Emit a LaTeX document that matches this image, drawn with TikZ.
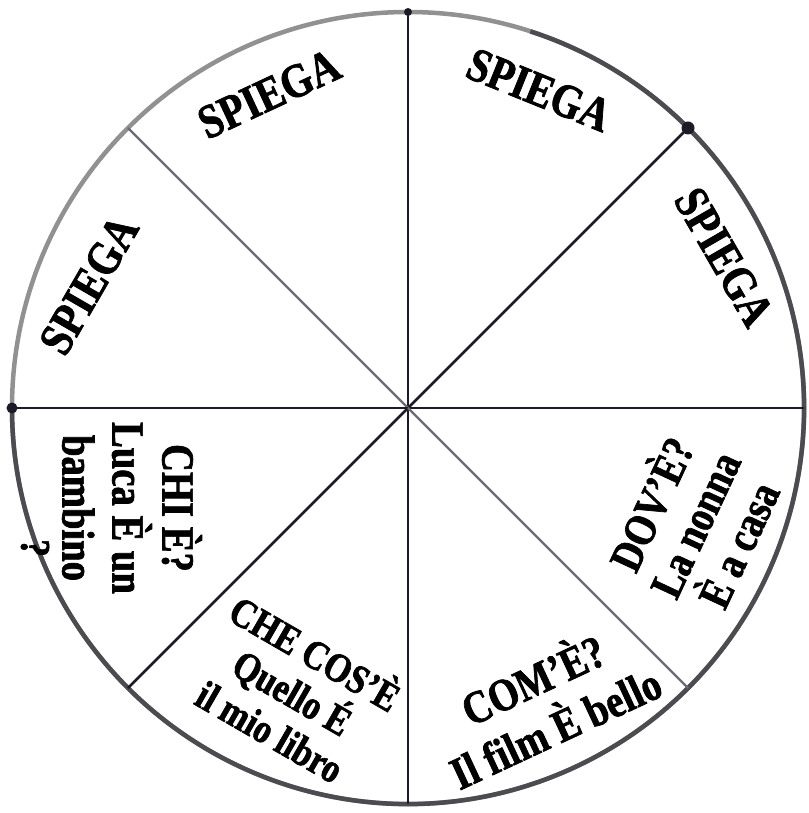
\documentclass[tikz,border=0pt]{standalone}
\usepackage{fontspec}
\setmainfont{Liberation Serif}[FakeStretch=0.84, BoldFeatures={FakeBold=1.5}]
\usepackage{tikz}
\usetikzlibrary{calc}

\definecolor{ink}{RGB}{28,28,40}
\definecolor{rimlight}{RGB}{145,145,145}
\definecolor{rimdark}{RGB}{75,75,80}

\begin{document}
\begin{tikzpicture}[x=1pt, y=1pt,
  rim/.style    ={line width=4.5pt, draw=rimlight},
  rimdk/.style  ={line width=4.5pt, draw=rimdark},
  spoke/.style  ={line width=2.8pt, draw=ink},
  spokelt/.style={line width=2.2pt, draw=ink!65},
  pin/.style    ={circle, fill=ink, inner sep=0pt, minimum size=11pt},
  spiega/.style ={font=\fontsize{48}{50}\selectfont\bfseries, inner sep=0pt},
  qa/.style     ={font=\fontsize{46}{50}\selectfont\bfseries, align=center,
                  inner sep=0pt},
]
\useasboundingbox (-408,-405) rectangle (400,408);

% === Wheel ===
\coordinate (O) at (0,0);
\draw[rim] (O) circle (396);
\draw[rimdk] (72:396) arc (72:-180:396);

\foreach \a in {0,45,...,315}
  \coordinate (p\a) at (\a:396);

% === Spokes ===
\draw[spoke]   (O) -- (p0);
\draw[spoke]   (O) -- (p45);
\draw[spoke]   (O) -- (p90);
\draw[spokelt] (O) -- (p135);
\draw[spoke]   (O) -- (p180);
\draw[spoke]   (O) -- (p225);
\draw[spoke]   (O) -- (p270);
\draw[spokelt] (O) -- (p315);

% === Pins on the rim ===
\node[pin, minimum size=8pt]  (pinN)  at (p90)  {};
\node[pin, minimum size=13pt] (pinNE) at (p45)  {};
\node[pin]                    (pinW)  at (p180) {};

% === Upper half: SPIEGA ===
\node[spiega, rotate=-60] (spiegaA) at (316,151)  {SPIEGA};
\node[spiega, rotate=-22] (spiegaB) at (131,318)  {SPIEGA};
\node[spiega, rotate=25]  (spiegaC) at (-139,314) {SPIEGA};
\node[spiega, rotate=60]  (spiegaD) at (-319,123) {SPIEGA};

% === Lower half: questions ===
\node[qa, rotate=-90] (chi) at (-276,-100)
  {CHI È?\\Luca È un\\bambino};
\node[qa, rotate=-30, font=\fontsize{41}{45}\selectfont\bfseries] (checos)
  at (-114,-282) {CHE COS’È\\Quello É\\il mio libro};
\node[qa, rotate=25, font=\fontsize{46}{53}\selectfont\bfseries] (come)
  at (135,-293) {COM’È?\\Il film È bello};
\node[qa, rotate=65, font=\fontsize{45}{48}\selectfont\bfseries] (dove)
  at (284,-115) {DOV’È?\\La nonna\\È a casa};

\node[qa, rotate=-90, font=\fontsize{42}{48}\selectfont\bfseries] (qmark)
  at (-373,-140) {?};

\end{tikzpicture}
\end{document}
